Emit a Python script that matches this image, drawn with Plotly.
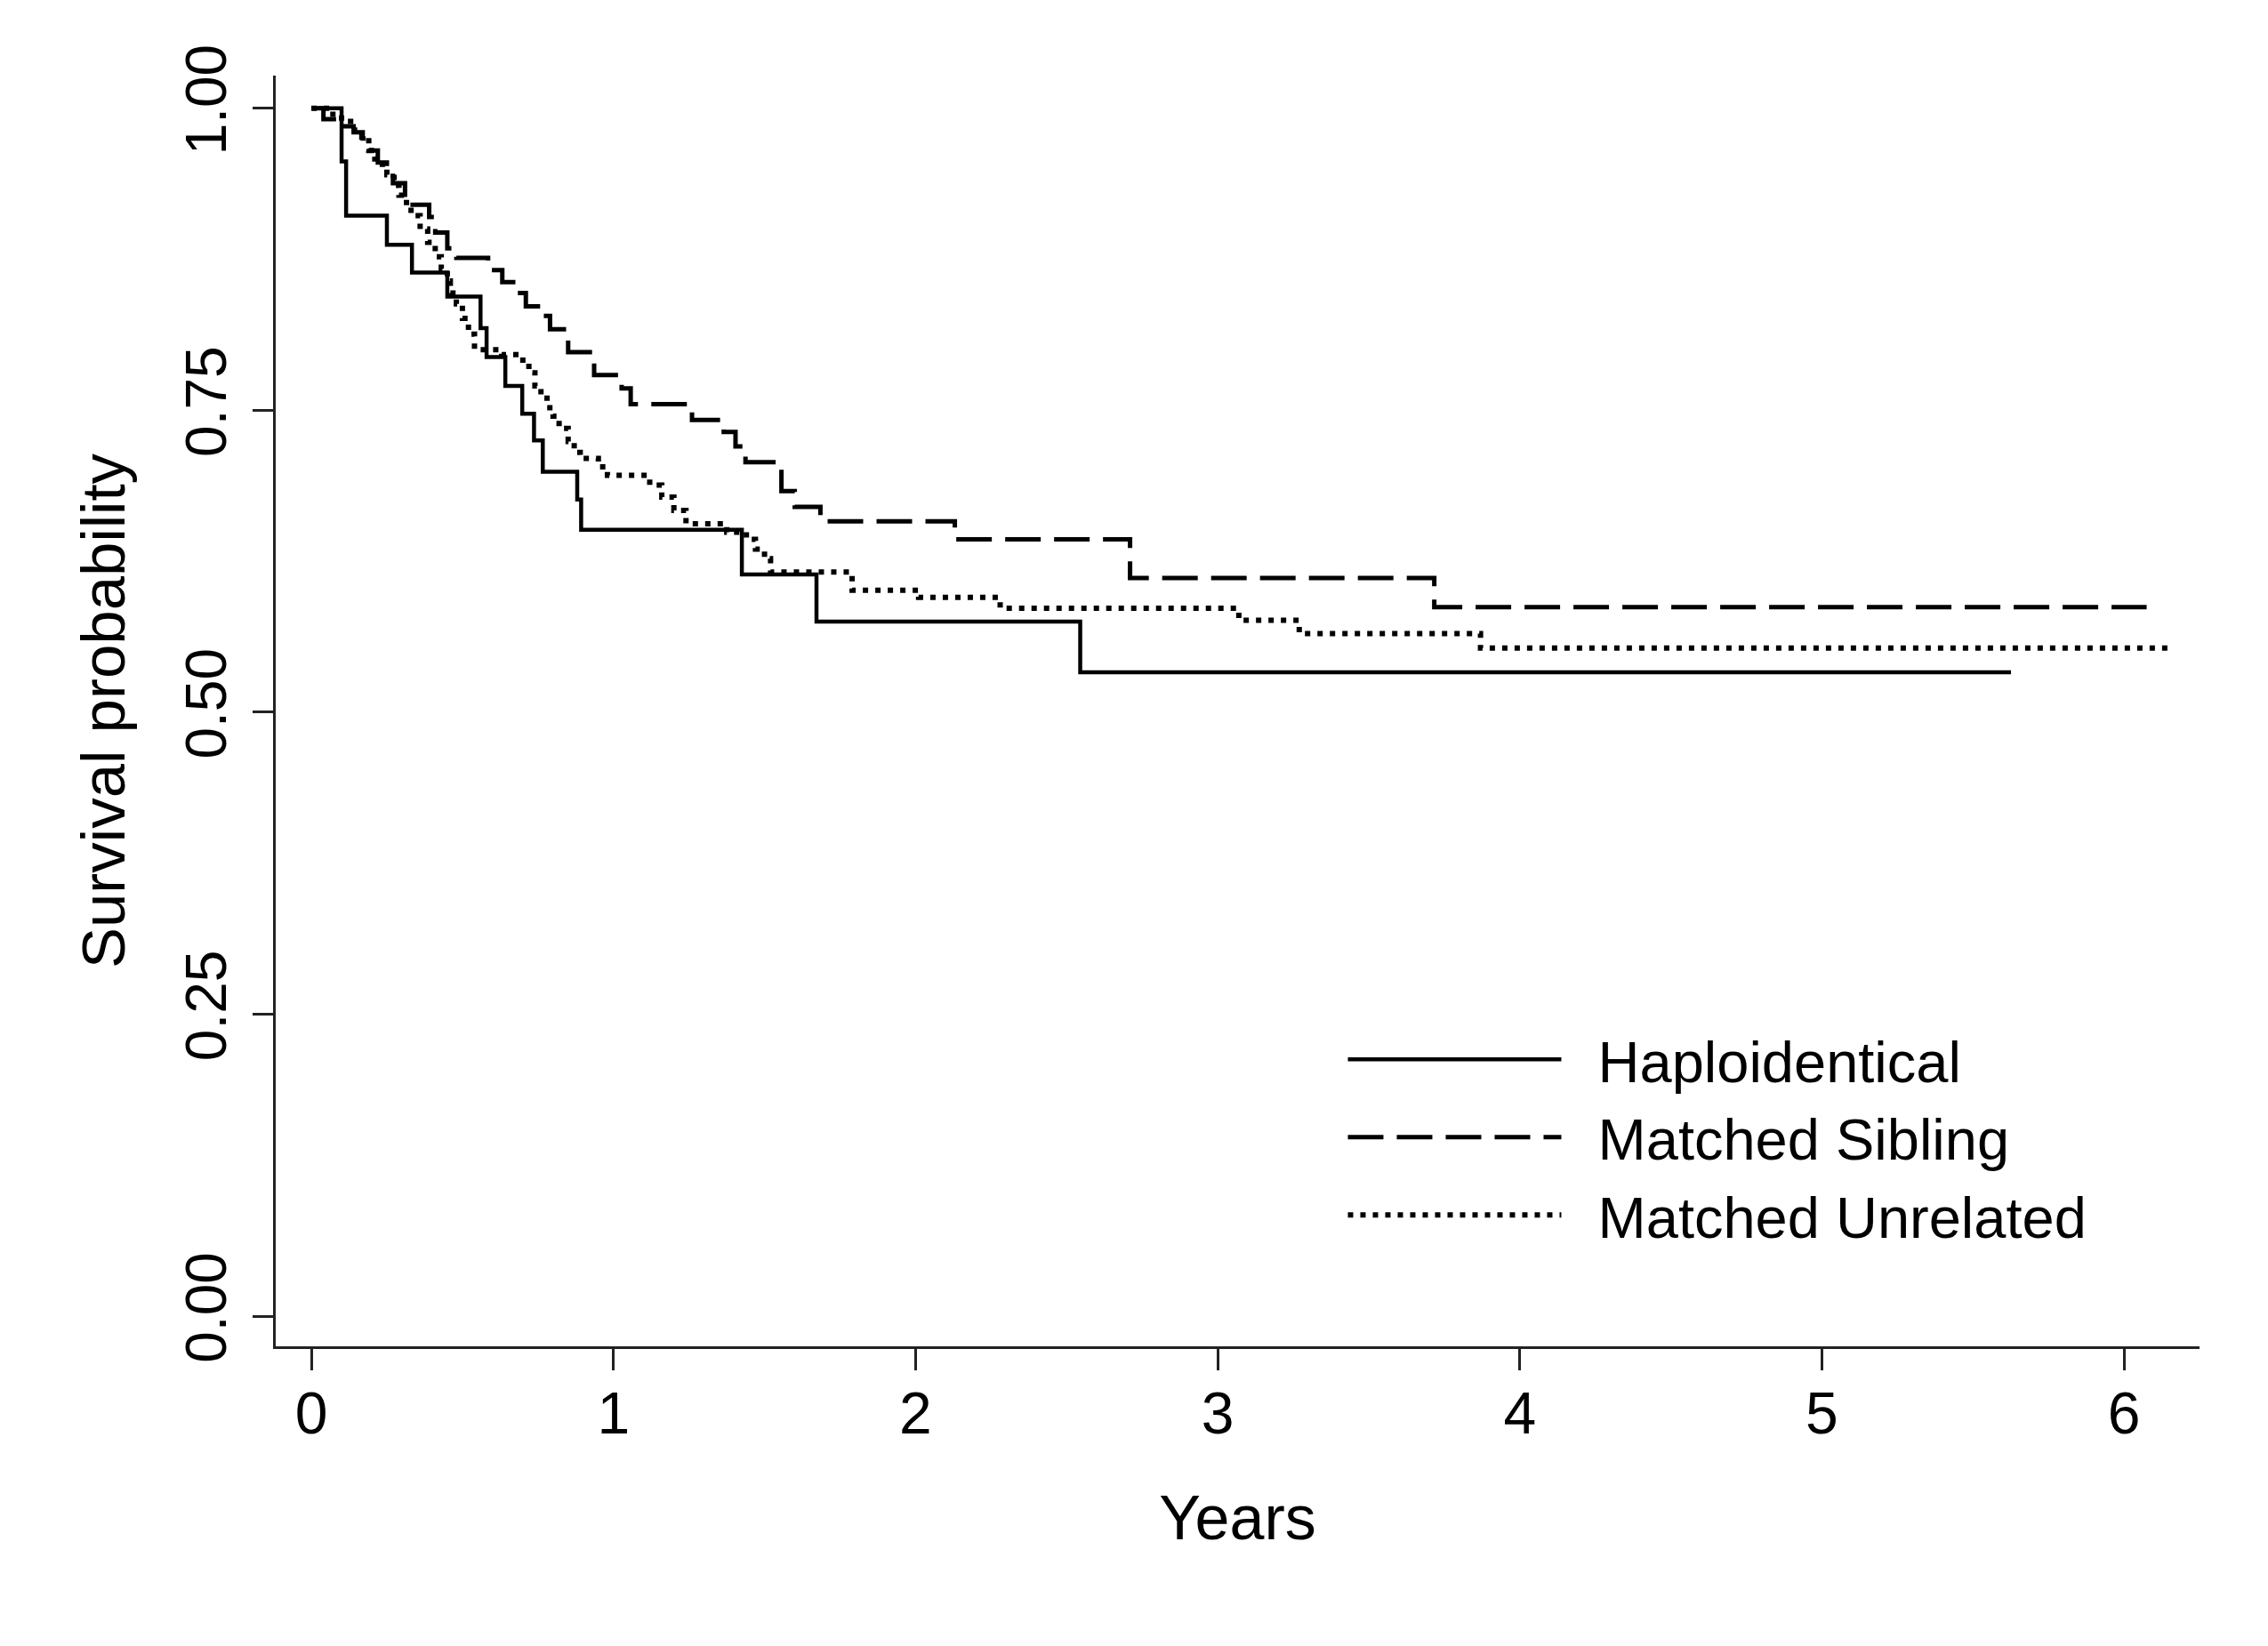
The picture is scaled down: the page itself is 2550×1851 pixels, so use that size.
import plotly.graph_objects as go

# ---- data ----
haplo_t = [0, 0.10, 0.115, 0.25, 0.333, 0.45, 0.56, 0.58, 0.642, 0.698, 0.737, 0.766,
           0.88, 0.893, 1.425, 1.672, 2.545, 5.626]
haplo_s = [1.0, 0.956, 0.911, 0.887, 0.864, 0.844, 0.818, 0.794, 0.770, 0.747, 0.725, 0.699,
           0.676, 0.651, 0.614, 0.575, 0.533, 0.533]

sib_t = [0, 0.04, 0.10, 0.14, 0.17, 0.19, 0.22, 0.25, 0.27, 0.31, 0.39, 0.41, 0.45, 0.48,
         0.585, 0.632, 0.68, 0.71, 0.765, 0.79, 0.85, 0.936, 1.027, 1.057, 1.26, 1.365,
         1.404, 1.437, 1.556, 1.60, 1.685, 2.13, 2.71, 3.717, 6.075]
sib_s = [1.0, 0.991, 0.985, 0.980, 0.975, 0.965, 0.955, 0.944, 0.938, 0.920, 0.910, 0.897,
         0.884, 0.876, 0.866, 0.856, 0.847, 0.836, 0.828, 0.817, 0.798, 0.779, 0.768, 0.755,
         0.742, 0.732, 0.720, 0.707, 0.683, 0.670, 0.658, 0.643, 0.611, 0.587, 0.587]

unrel_t = [0, 0.05, 0.10, 0.13, 0.167, 0.19, 0.21, 0.235, 0.25, 0.274, 0.29, 0.315, 0.33,
           0.36, 0.385, 0.41, 0.43, 0.45, 0.46, 0.48, 0.50, 0.52, 0.54, 0.63, 0.70, 0.72,
           0.74, 0.76, 0.78, 0.80, 0.82, 0.85, 0.87, 0.89, 0.95, 0.98, 1.12, 1.16, 1.20,
           1.24, 1.375, 1.44, 1.47, 1.50, 1.52, 1.79, 2.01, 2.28, 3.07, 3.27, 3.87, 6.165]
unrel_s = [1.0, 0.995, 0.989, 0.982, 0.976, 0.965, 0.958, 0.950, 0.945, 0.936, 0.928, 0.919,
           0.911, 0.900, 0.889, 0.877, 0.867, 0.857, 0.847, 0.838, 0.826, 0.813, 0.800,
           0.796, 0.789, 0.781, 0.770, 0.760, 0.752, 0.745, 0.735, 0.724, 0.715, 0.710,
           0.703, 0.696, 0.688, 0.678, 0.667, 0.656, 0.649, 0.643, 0.635, 0.627, 0.616,
           0.601, 0.595, 0.586, 0.576, 0.565, 0.553, 0.553]

series_names = ["Haploidentical", "Matched Sibling", "Matched Unrelated"]

y_ticks = [0, 0.25, 0.5, 0.75, 1.0]
y_ticklabels = ["0.00", "0.25", "0.50", "0.75", "1.00"]
x_ticks = [0, 1, 2, 3, 4, 5, 6]
x_ticklabels = ["0", "1", "2", "3", "4", "5", "6"]

FONT = "Liberation Sans, Arial, sans-serif"
PAD = "\u00a0\u00a0"  # gap between legend key and label

fig = go.Figure()
fig.add_trace(go.Scatter(x=haplo_t, y=haplo_s, mode="lines", name=PAD + series_names[0],
                         line=dict(color="black", width=4.5, shape="hv")))
fig.add_trace(go.Scatter(x=sib_t, y=sib_s, mode="lines", name=PAD + series_names[1],
                         line=dict(color="black", width=5, shape="hv", dash="40px,15px")))
fig.add_trace(go.Scatter(x=unrel_t, y=unrel_s, mode="lines", name=PAD + series_names[2],
                         line=dict(color="black", width=6, shape="hv", dash="6px,8px")))

fig.update_layout(
    width=2550, height=1851,
    margin=dict(l=310, r=77, t=85, b=337),
    paper_bgcolor="white", plot_bgcolor="white",
    font=dict(family=FONT, size=66, color="black"),
    showlegend=True,
    legend=dict(x=0.555, y=0.26, xanchor="left", yanchor="top",
                bgcolor="rgba(0,0,0,0)", font=dict(size=65, family=FONT),
                itemwidth=240, tracegroupgap=0),
    xaxis=dict(range=[-0.118, 6.25], tickvals=x_ticks, ticktext=x_ticklabels,
               ticks="outside", ticklen=24, tickwidth=2.5, tickcolor="#222",
               showline=True, linecolor="#222", linewidth=2.5,
               showgrid=False, zeroline=False, ticklabelstandoff=-8,
               tickfont=dict(size=66),
               title=dict(text="Years", font=dict(size=70), standoff=58)),
    yaxis=dict(range=[-0.025, 1.027], tickvals=y_ticks, ticktext=y_ticklabels,
               tickangle=-90, ticks="outside", ticklen=23, tickwidth=2.5, tickcolor="#222",
               showline=True, linecolor="#222", linewidth=2.5,
               showgrid=False, zeroline=False, ticklabelstandoff=5,
               tickfont=dict(size=64),
               title=dict(text="Survival probability", font=dict(size=69), standoff=33)),
)

fig.write_html("out.html", config={"displayModeBar": False},
               post_script="document.body.style.margin='0';")
